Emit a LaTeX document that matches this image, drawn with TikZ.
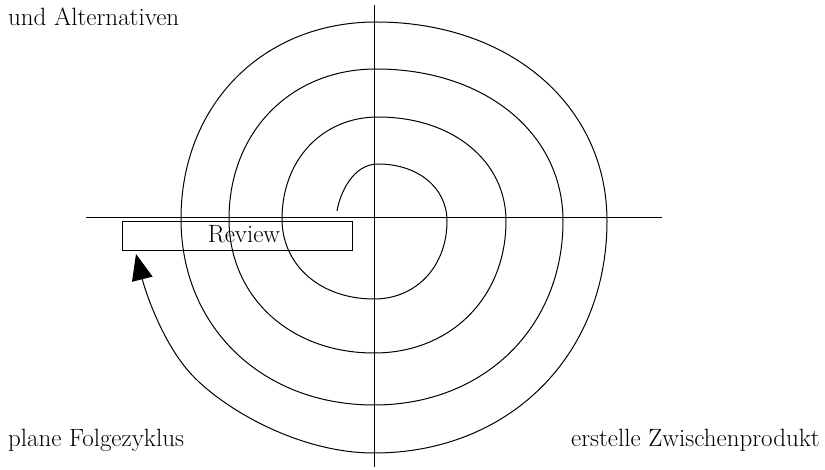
\documentclass[tikz,border=0pt]{standalone}
\usetikzlibrary{arrows.meta,calc}
\begin{document}
\begin{tikzpicture}[x=1pt,y=-1pt,
  axisline/.style={line width=0.9pt},
  spiralline/.style={line width=1pt},
  lbl/.style={font=\fontsize{25}{30}\selectfont, inner sep=0pt},
  reviewbox/.style={draw, line width=0.9pt, minimum width=230pt, minimum height=29pt, inner sep=0pt}]
\useasboundingbox (0,0) rectangle (825,470);
\def\kk{0.58}
% axes
\coordinate (hl) at (86,217);
\coordinate (hr) at (662,217);
\coordinate (vt) at (374,5);
\coordinate (vb) at (374,467);
\draw[axisline] (hl) -- (hr);
\draw[axisline] (vt) -- (vb);
% review box
\node[reviewbox] (review) at (237,235.5) {};
\node[lbl, anchor=base] (reviewtext) at (244,243) {Review};
% spiral crossing points
\coordinate (s) at (337,211);
\coordinate (t1) at (378,164); \coordinate (r1) at (447,221);
\coordinate (b1) at (374,299); \coordinate (l1) at (282,219);
\coordinate (t2) at (378,117); \coordinate (r2) at (506,221);
\coordinate (b2) at (374,353); \coordinate (l2) at (229,219);
\coordinate (t3) at (376,69);  \coordinate (r3) at (563,221);
\coordinate (b3) at (374,405); \coordinate (l3) at (181,219);
\coordinate (t4) at (376,22);  \coordinate (r4) at (607,221);
\coordinate (b4) at (374,453);
\coordinate (p) at (192,375);
\coordinate (tip) at (136,254);
\draw[spiralline, -{Triangle[length=26pt,width=21pt]}]
 (s) .. controls (340,193) and (353,164) .. (t1)
 .. controls ($(t1)!\kk!(t1 -| r1)$) and ($(r1)!\kk!(t1 -| r1)$) .. (r1)
 .. controls ($(r1)!\kk!(r1 |- b1)$) and ($(b1)!\kk!(r1 |- b1)$) .. (b1)
 .. controls ($(b1)!\kk!(b1 -| l1)$) and ($(l1)!\kk!(b1 -| l1)$) .. (l1)
 .. controls ($(l1)!\kk!(l1 |- t2)$) and ($(t2)!\kk!(l1 |- t2)$) .. (t2)
 .. controls ($(t2)!\kk!(t2 -| r2)$) and ($(r2)!\kk!(t2 -| r2)$) .. (r2)
 .. controls ($(r2)!\kk!(r2 |- b2)$) and ($(b2)!\kk!(r2 |- b2)$) .. (b2)
 .. controls ($(b2)!\kk!(b2 -| l2)$) and ($(l2)!\kk!(b2 -| l2)$) .. (l2)
 .. controls ($(l2)!\kk!(l2 |- t3)$) and ($(t3)!\kk!(l2 |- t3)$) .. (t3)
 .. controls ($(t3)!\kk!(t3 -| r3)$) and ($(r3)!\kk!(t3 -| r3)$) .. (r3)
 .. controls ($(r3)!\kk!(r3 |- b3)$) and ($(b3)!\kk!(r3 |- b3)$) .. (b3)
 .. controls ($(b3)!\kk!(b3 -| l3)$) and ($(l3)!\kk!(b3 -| l3)$) .. (l3)
 .. controls ($(l3)!\kk!(l3 |- t4)$) and ($(t4)!\kk!(l3 |- t4)$) .. (t4)
 .. controls ($(t4)!\kk!(t4 -| r4)$) and ($(r4)!\kk!(t4 -| r4)$) .. (r4)
 .. controls ($(r4)!\kk!(r4 |- b4)$) and ($(b4)!\kk!(r4 |- b4)$) .. (b4)
 .. controls (300,453) and (225,410) .. (p)
 .. controls (162,343) and (145,290) .. (tip);
% labels
\node[lbl, anchor=base west] (alt) at (8,26) {und Alternativen};
\node[lbl, anchor=base west] (plane) at (8,446) {plane Folgezyklus};
\node[lbl, anchor=base east] (erst) at (820,446) {erstelle Zwischenprodukt};
\end{tikzpicture}
\end{document}
